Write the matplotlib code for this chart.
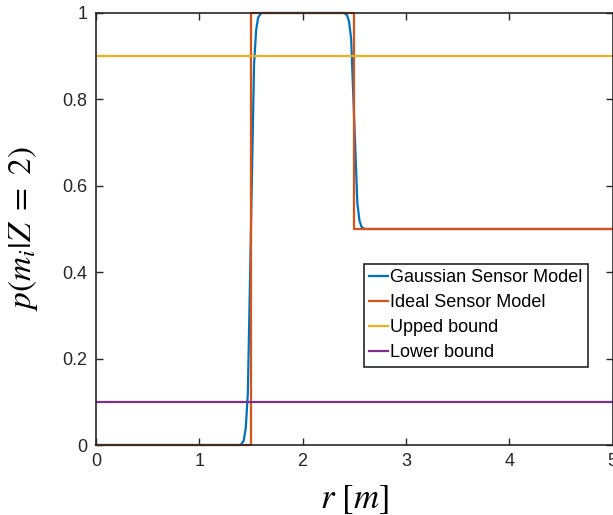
import matplotlib
matplotlib.use("Agg")
import matplotlib.pyplot as plt

# Gaussian sensor model
r_gauss = [0, 1.40, 1.43, 1.45, 1.47, 1.50, 1.53, 1.55, 1.57, 1.60,
           2.40, 2.43, 2.45, 2.47, 2.50, 2.53, 2.55, 2.57, 2.60, 5]
p_gauss = [0, 0, 0.01, 0.04, 0.12, 0.5, 0.88, 0.96, 0.99, 1,
           1, 0.995, 0.98, 0.94, 0.75, 0.56, 0.52, 0.505, 0.5, 0.5]

# Ideal sensor model (step)
r_ideal = [0, 1.5, 1.5, 2.5, 2.5, 5]
p_ideal = [0, 0, 1, 1, 0.5, 0.5]

r_bound = [0, 5]
upper = [0.9, 0.9]
lower = [0.1, 0.1]

labels = ["Gaussian Sensor Model", "Ideal Sensor Model", "Upped bound", "Lower bound"]
colors = ["#0072BD", "#D95319", "#EDB120", "#7E2F8E"]

plt.rcParams['font.family'] = ['Liberation Sans', 'DejaVu Sans']
plt.rcParams['mathtext.fontset'] = 'stix'

fig = plt.figure(figsize=(6.13, 5.15), dpi=100)
ax = fig.add_axes([0.1566, 0.1359, 0.8426, 0.8389])

ax.plot(r_gauss, p_gauss, color=colors[0], lw=1.6, label=labels[0], clip_on=False)
ax.plot(r_ideal, p_ideal, color=colors[1], lw=1.6, label=labels[1], clip_on=False)
ax.plot(r_bound, upper, color=colors[2], lw=1.6, label=labels[2])
ax.plot(r_bound, lower, color=colors[3], lw=1.6, label=labels[3])

ax.set_xlim(0, 5)
ax.set_ylim(0, 1)
ax.set_xticks([0, 1, 2, 3, 4, 5])
ax.set_yticks([0, 0.2, 0.4, 0.6, 0.8, 1])
ax.set_yticklabels(["0", "0.2", "0.4", "0.6", "0.8", "1"])
ax.tick_params(direction='in', length=5, width=1, top=True, right=True,
               labelsize=13, colors='#262626', pad=6)
for s in ax.spines.values():
    s.set_color('#262626')
    s.set_linewidth(1.2)

ax.set_xlabel(r"$r\ [m]$", fontsize=25, labelpad=9)
ax.set_ylabel(r"$p(m_i|Z\ =\ 2)$", fontsize=24, labelpad=16)

leg = ax.legend(loc='lower left', bbox_to_anchor=(0.519, 0.181), borderaxespad=0,
                fontsize=13, handlelength=1.0, handletextpad=0.15, labelspacing=0.45,
                borderpad=0.3, fancybox=False, framealpha=1, edgecolor='#262626')
leg.get_frame().set_linewidth(1.2)

fig.savefig("out.png", dpi=100)
